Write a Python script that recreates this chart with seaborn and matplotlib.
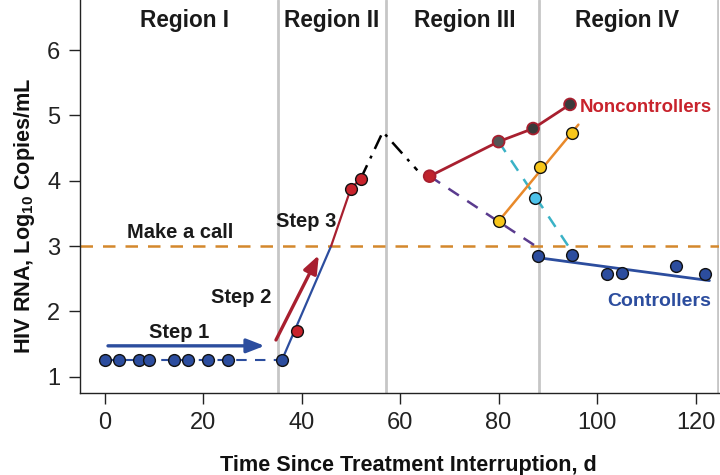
import matplotlib
matplotlib.use("Agg")
import matplotlib.pyplot as plt
import seaborn as sns
import pandas as pd

# ---------------- data ----------------
baseline_x = [0, 3, 7, 9, 14, 17, 21, 25, 36]
baseline_y = [1.25, 1.25, 1.25, 1.25, 1.25, 1.25, 1.25, 1.25, 1.25]

rise_blue_x = [36, 46]
rise_blue_y = [1.25, 3.0]
rise_red_x = [46, 50, 52]
rise_red_y = [3.0, 3.88, 4.03]
red_pts_x = [39, 50, 52]
red_pts_y = [1.70, 3.88, 4.03]

peak_x = [52, 56.5, 63.5]
peak_y = [4.03, 4.75, 4.16]

non_x = [66, 80, 87, 94.5]
non_y = [4.07, 4.60, 4.80, 5.17]
non_face = ["#c0232c", "#555555", "#3a3a3a", "#3a3a3a"]

purple_x = [66, 87.7]
purple_y = [4.07, 2.99]
cyan_line_x = [80, 94.4]
cyan_line_y = [4.60, 2.97]
cyan_pt_x = [87.3]
cyan_pt_y = [3.73]

yellow_x = [80, 88.5, 95]
yellow_y = [3.38, 4.21, 4.73]
orange_line_x = [80, 96.2]
orange_line_y = [3.38, 4.86]

ctrl_x = [88, 95, 102, 105, 116, 122]
ctrl_y = [2.85, 2.86, 2.57, 2.59, 2.69, 2.57]
ctrl_fit_x = [89.1, 122.8]
ctrl_fit_y = [2.81, 2.47]

call_level = 3.0
region_bounds = [35.3, 57.2, 88.3, 124.6]
region_labels = ["Region I", "Region II", "Region III", "Region IV"]
region_centers = [16.2, 46.1, 73.1, 106.0]

x_ticks = [0, 20, 40, 60, 80, 100, 120]
y_ticks = [1, 2, 3, 4, 5, 6]

# ---------------- style ----------------
sns.set_theme(style="ticks")
plt.rcParams["font.family"] = ["Liberation Sans", "DejaVu Sans"]
plt.rcParams["mathtext.fontset"] = "custom"
plt.rcParams["mathtext.bf"] = "Liberation Sans:bold"
plt.rcParams["mathtext.rm"] = "Liberation Sans"

BLUE = "#2c4d9e"
DRED = "#a81f2f"
RED = "#c8232c"
ORANGE_D = "#d4882c"
GREY = "#c6c6c6"

fig = plt.figure(figsize=(7.2, 4.75), dpi=100)
ax = fig.add_axes([0.111, 0.173, 0.888, 0.827])

ax.set_xlim(-5, 124.8)
ax.set_ylim(0.75, 6.77)

for b in region_bounds:
    ax.axvline(b, color=GREY, lw=2, zorder=1)

ax.axhline(call_level, color=ORANGE_D, lw=1.8, ls=(0, (5, 4)), zorder=2)


def line(x, y, color, lw=1.6, ls="-", z=3):
    sns.lineplot(x=x, y=y, ax=ax, color=color, lw=lw, linestyle=ls,
                 sort=False, estimator=None, zorder=z)
    ax.lines[-1].set_linestyle(ls)


line(baseline_x, baseline_y, BLUE, lw=1.5, ls=(0, (5, 4)))
line(rise_blue_x, rise_blue_y, BLUE, lw=1.6)
line(rise_red_x, rise_red_y, DRED, lw=1.6)
line(peak_x, peak_y, "black", lw=1.8, ls=(0, (6, 3, 1.2, 3)))
line(non_x, non_y, DRED, lw=2)
line(purple_x, purple_y, "#5a3b8e", lw=1.8, ls=(0, (5, 4)))
line(cyan_line_x, cyan_line_y, "#3ab2c6", lw=1.8, ls=(0, (5, 4)))
line(orange_line_x, orange_line_y, "#e8892a", lw=1.8)
line(ctrl_fit_x, ctrl_fit_y, BLUE, lw=2)

ms = 72
sns.scatterplot(x=baseline_x, y=baseline_y, ax=ax, s=ms, color=BLUE,
                edgecolor="#111111", linewidth=1, zorder=5)
sns.scatterplot(x=red_pts_x, y=red_pts_y, ax=ax, s=ms, color=RED,
                edgecolor="#111111", linewidth=1, zorder=5)
df_non = pd.DataFrame({"x": non_x, "y": non_y, "c": non_face})
ax.scatter(df_non["x"], df_non["y"], s=ms, c=df_non["c"], edgecolors=DRED,
           linewidths=1.3, zorder=5)
sns.scatterplot(x=yellow_x, y=yellow_y, ax=ax, s=ms, color="#f7c61a",
                edgecolor="#111111", linewidth=1, zorder=5)
sns.scatterplot(x=cyan_pt_x, y=cyan_pt_y, ax=ax, s=ms, color="#4cc2ea",
                edgecolor="#111111", linewidth=1, zorder=5)
sns.scatterplot(x=ctrl_x, y=ctrl_y, ax=ax, s=ms, color=BLUE,
                edgecolor="#111111", linewidth=1, zorder=5)

# arrows
ax.annotate("", xy=(32.5, 1.47), xytext=(0.7, 1.47),
            arrowprops=dict(arrowstyle="-|>,head_length=0.9,head_width=0.35",
                            color=BLUE, lw=2.4, shrinkA=0, shrinkB=0), zorder=4)
ax.annotate("", xy=(43.5, 2.86), xytext=(34.8, 1.56),
            arrowprops=dict(arrowstyle="-|>,head_length=0.9,head_width=0.35",
                            color=DRED, lw=2.4, shrinkA=0, shrinkB=0), zorder=4)

tk = dict(fontsize=14.5, fontweight="bold", color="#1a1a1a")
ax.text(15.1, 1.68, "Step 1", ha="center", va="center", **tk)
ax.text(27.8, 2.21, "Step 2", ha="center", va="center", **tk)
ax.text(41.0, 3.37, "Step 3", ha="center", va="center", **tk)
ax.text(15.3, 3.2, "Make a call", ha="center", va="center", **tk)

for lab, cx in zip(region_labels, region_centers):
    ax.text(cx, 6.45, lab, ha="center", va="center", fontsize=16.3,
            fontweight="bold", color="#1a1a1a")

ax.text(123.2, 5.13, "Noncontrollers", ha="right", va="center", fontsize=13.4,
        fontweight="bold", color=RED)
ax.text(123.2, 2.15, "Controllers", ha="right", va="center", fontsize=14,
        fontweight="bold", color=BLUE)

ax.set_xticks(x_ticks)
ax.set_yticks(y_ticks)
ax.tick_params(axis="both", direction="out", length=8, width=1,
               labelsize=17, colors="#222222", pad=6)
for s in ["top", "right"]:
    ax.spines[s].set_visible(False)
for s in ["left", "bottom"]:
    ax.spines[s].set_color("#222222")
    ax.spines[s].set_linewidth(1)

ax.set_xlabel("Time Since Treatment Interruption, d", fontsize=15.6,
              fontweight="bold", color="#111111")
ax.set_ylabel(r"HIV RNA, Log$_{\mathbf{10}}$ Copies/mL", fontsize=15.6,
              fontweight="bold", color="#111111")
ax.xaxis.label.set_va("center")
ax.xaxis.set_label_coords(0.514, -0.185)
ax.yaxis.label.set_va("center")
ax.yaxis.set_label_coords(-0.086, 0.45)

fig.savefig("out.png", dpi=100)
